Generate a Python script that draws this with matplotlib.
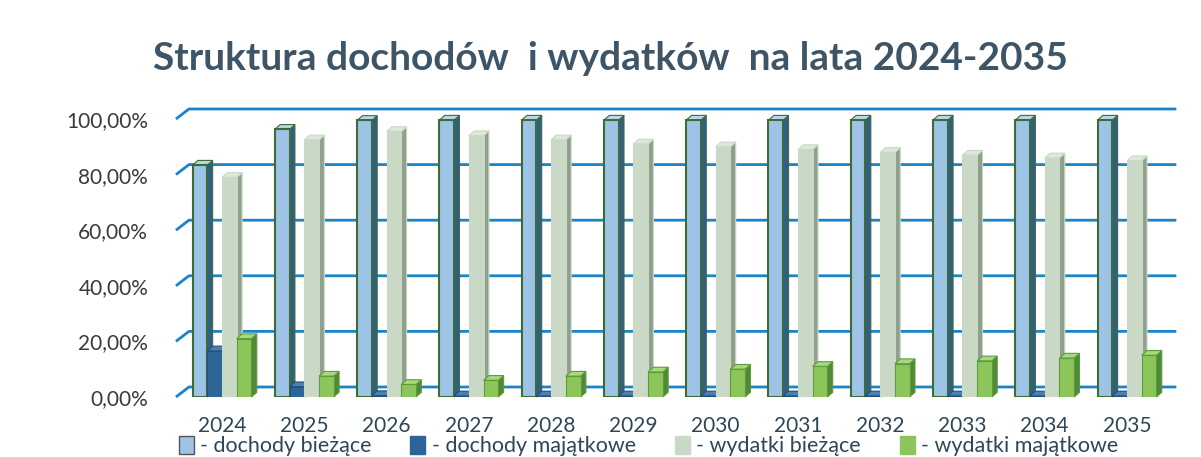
import matplotlib.pyplot as plt
from matplotlib.patches import Polygon, Patch

plt.rcParams['font.family'] = ['Lato', 'DejaVu Sans']

years = ['2024', '2025', '2026', '2027', '2028', '2029', '2030', '2031',
         '2032', '2033', '2034', '2035']
doch_biez = [83.4, 96.3, 99.5, 99.6, 99.6, 99.6, 99.6, 99.6, 99.6, 99.6, 99.6, 99.6]
doch_maj = [16.6, 3.7, 0.5, 0.4, 0.4, 0.4, 0.4, 0.4, 0.4, 0.4, 0.4, 0.4]
wyd_biez = [79.0, 92.5, 95.5, 94.0, 92.5, 91.0, 90.0, 89.0, 88.0, 87.0, 86.0, 85.0]
wyd_maj = [21.0, 7.5, 4.5, 6.0, 7.5, 9.0, 10.0, 11.0, 12.0, 13.0, 14.0, 15.0]
labels = ['- dochody bieżące', '- dochody majątkowe', '- wydatki bieżące', '- wydatki majątkowe']
yticks = [0, 20, 40, 60, 80, 100]

# front, side, top, edge
styles = [
    ('#9dc3e6', '#2f5f86', '#b9d5ee', '#3f6b35'),
    ('#2e6599', '#1d4468', '#4a80b3', '#24507a'),
    ('#c9d9c6', '#8ea08b', '#dde8db', '#c9d9c6'),
    ('#8cc65a', '#4f8a36', '#a9d97d', '#5f9a3e'),
]
series = [doch_biez, doch_maj, wyd_biez, wyd_maj]

fig = plt.figure(figsize=(12.01, 4.57), dpi=100)
ax = fig.add_axes([0.1465, 0.1313, 0.8227, 0.6083])
ax.set_xlim(-0.56, 11.45)
ax.set_ylim(0, 100)

w = 0.179
dx, dy = 0.065, 1.7          # bar depth in data units
wdx, wdy = 0.158, 3.6        # back wall offset

# back wall grid lines
for v in yticks:
    ax.plot([-0.56, -0.56 + wdx, 11.6], [v, v + wdy, v + wdy], color='#1a84c9',
            lw=2, zorder=1, clip_on=False, solid_capstyle='butt')

x = list(range(len(years)))
for k, (vals, (fc, sc, tc, ec)) in enumerate(zip(series, styles)):
    xs = [i + (k - 1.5) * w for i in x]
    for xc, v in zip(xs, vals):
        x0, x1 = xc - w / 2, xc + w / 2
        side = Polygon([(x1, 0), (x1 + dx, dy), (x1 + dx, v + dy), (x1, v)],
                       closed=True, fc=sc, ec=ec, lw=0.8, zorder=2 + k, clip_on=False)
        top = Polygon([(x0, v), (x0 + dx, v + dy), (x1 + dx, v + dy), (x1, v)],
                      closed=True, fc=tc, ec=ec, lw=0.8, zorder=2 + k, clip_on=False)
        ax.add_patch(side)
        ax.add_patch(top)
    ax.bar(xs, vals, width=w, color=fc, edgecolor=ec,
           linewidth=1.5 if k == 0 else 0.8, zorder=2 + k)

ax.set_yticks(yticks)
ax.set_yticklabels(['%d,00%%' % v for v in yticks])
ax.set_xticks(x)
ax.set_xticklabels(years)
ax.tick_params(axis='y', length=0, pad=20, labelsize=15, labelcolor='#3a3a3a')
ax.tick_params(axis='x', length=0, pad=14, labelsize=15, labelcolor='#2f4656')
for s in ax.spines.values():
    s.set_visible(False)

fig.text(0.508, 0.872, 'Struktura dochodów  i wydatków  na lata 2024-2035',
         ha='center', va='center', fontsize=28, fontweight='bold', color='#3d5566')

handles = [Patch(facecolor=st[0], edgecolor='#555555' if i == 0 else st[0])
           for i, st in enumerate(styles)]
fig.legend(handles, labels, loc='center', bbox_to_anchor=(0.54, 0.024), ncol=4,
           frameon=False, fontsize=15.5, handlelength=0.7, handleheight=0.9,
           handletextpad=0.3, columnspacing=1.8, labelcolor='#2f4656')

fig.savefig('out.png', dpi=100, facecolor='white')
